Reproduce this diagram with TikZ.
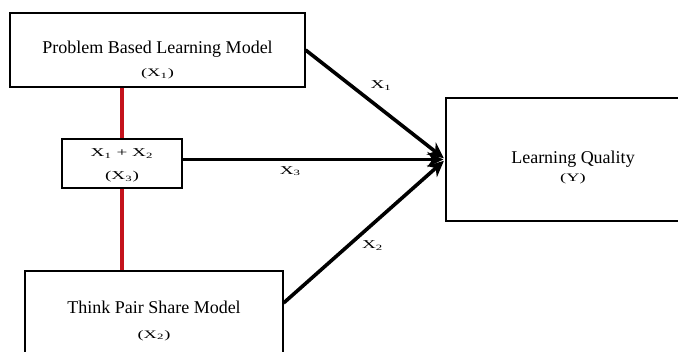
\documentclass[tikz,border=0pt]{standalone}
\usepackage{fontspec}
\setmainfont{Liberation Serif}
\usepackage{graphicx}
\usepackage{tikz}
\usetikzlibrary{arrows.meta}
\definecolor{linkred}{RGB}{196,18,28}
\newcommand{\widesym}[1]{\scalebox{1.6}[1]{#1}}

\begin{document}
\begin{tikzpicture}[x=1pt,y=-1pt,
                      basenode/.style={draw,line width=1.2pt,align=center,inner sep=0pt,font={\fontsize{18}{20}\selectfont}},
                      model/.style={basenode,rectangle},
                      small/.style={font={\fontsize{12}{15}\selectfont}},
                      effect/.style={-{Stealth[length=16pt,width=15pt,inset=5pt]},line width=3.6pt,shorten >=2pt},
                      link/.style={draw=linkred,line width=3.4pt},
                      coef/.style={small,inner sep=1pt}]
    \useasboundingbox (0,0) rectangle (678,352);
    \node[model,minimum width=295pt,minimum height=74pt] (pbl) at (157.5,50) {\rule{0pt}{33pt}Problem Based Learning Model\\[3pt]{\fontsize{11.5}{15}\selectfont\widesym{(X\textsubscript{1})}}};
    \node[model,small,minimum width=120pt,minimum height=49pt] (combo) at (122,163.5) {\rule{0pt}{12pt}\widesym{X\textsubscript{1} + X\textsubscript{2}}\\[8pt]\widesym{(X\textsubscript{3})}};
    \node[model,minimum width=258pt,minimum height=90pt] (tps) at (154,316) {\rule{0pt}{21.5pt}Think Pair Share Model\\[5pt]{\fontsize{11.5}{15}\selectfont\widesym{(X\textsubscript{2})}}};
    \node[model,minimum width=254pt,minimum height=123pt] (lq) at (573,159.5) {\rule{0pt}{27.5pt}Learning Quality\\[-2pt]{\fontsize{11.5}{15}\selectfont\widesym{(Y)}}};
    \draw[link] (pbl.south -| combo.north) -- (combo.north);
    \draw[link] (combo.south) -- (tps.north -| combo.south);
    \draw[effect] (pbl.east) -- node[coef,pos=.54,above=16pt] {\widesym{X\textsubscript{1}}} (lq.west);
    \draw[effect] (combo.east |- lq.west) -- node[coef,pos=.41,below=4pt] {\widesym{X\textsubscript{3}}} (lq.west);
    \draw[effect] ([yshift=13pt]tps.east) -- node[coef,pos=.55,below=14pt] {\widesym{X\textsubscript{2}}} (lq.west);
  \end{tikzpicture}
\end{document}
